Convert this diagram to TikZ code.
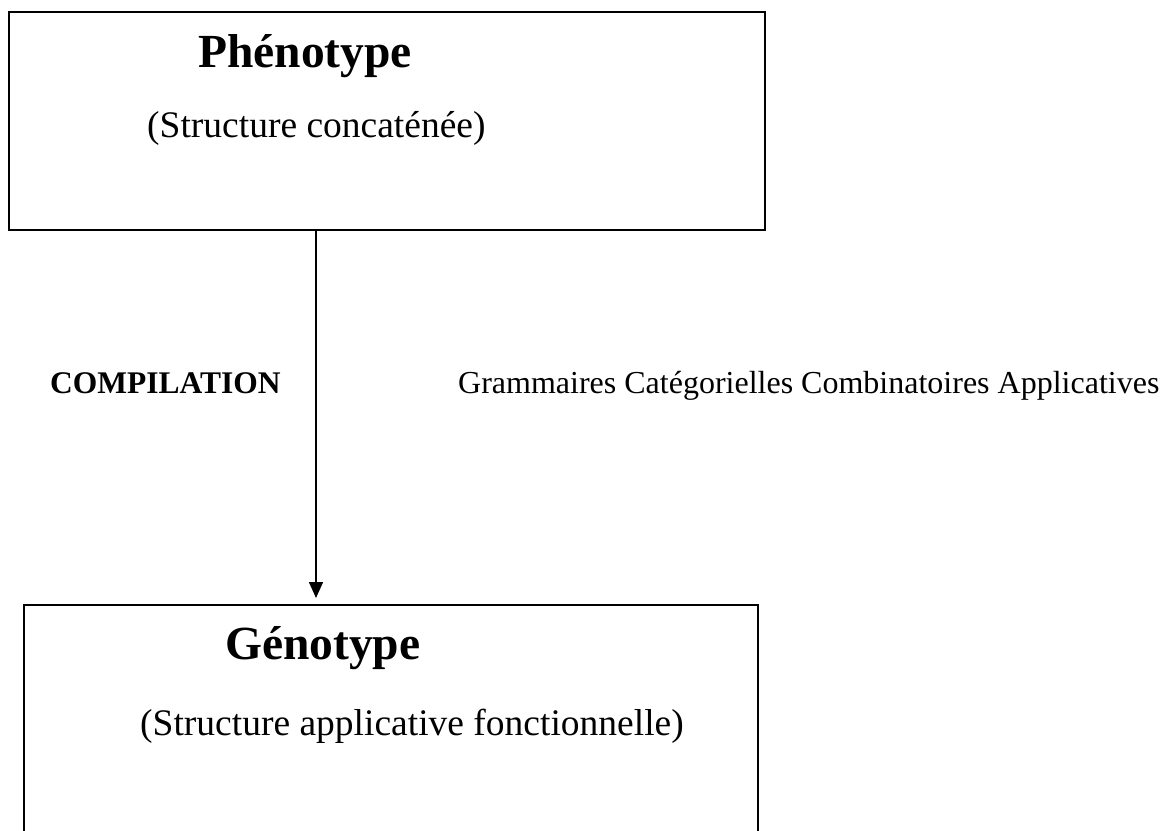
\documentclass[tikz,border=0pt]{standalone}
\usepackage{fontspec}
\setmainfont{Liberation Serif}
\usetikzlibrary{arrows.meta}

\tikzset{
  framebox/.style={draw=black, line width=2pt, inner sep=0pt, anchor=north west},
  titletext/.style={anchor=base west, inner sep=0pt, font=\fontsize{47.5}{56}\selectfont\bfseries},
  subtext/.style={anchor=base west, inner sep=0pt, font=\fontsize{37.5}{45}\selectfont},
  sidelabel/.style={anchor=base west, inner sep=0pt, font=\fontsize{32}{38}\selectfont},
  flow/.style={line width=1.5pt, -{Triangle[width=14pt,length=16pt]}, shorten >=6pt}
}

\begin{document}
\begin{tikzpicture}[x=1pt, y=-1pt]
  \useasboundingbox (0,0) rectangle (1169,830);
  \fill[white] (0,0) rectangle (1169,830);
  \clip (0,0) rectangle (1169,830);

  % upper frame: phenotype
  \node[framebox, minimum width=756pt, minimum height=218pt] (pheno) at (8,11) {};
  \node[titletext] (phenotitle) at (198,67) {Phénotype};
  \node[subtext] (phenosub) at (147,137) {(Structure concaténée)};

  % lower frame: genotype (runs past the lower edge)
  \node[framebox, minimum width=734pt, minimum height=280pt] (geno) at (23,604) {};
  \node[titletext] (genotitle) at (225,659) {Génotype};
  \node[subtext] (genosub) at (140,735) {(Structure applicative fonctionnelle)};

  % compilation arrow
  \coordinate (axis) at (316,0);
  \draw[flow] (axis |- pheno.south) -- (axis |- geno.north);

  % labels beside the arrow
  \node[sidelabel, font=\fontsize{31.5}{38}\selectfont\bfseries] (comp) at (50,393) {COMPILATION};
  \node[sidelabel] (gcca) at (458,393) {Grammaires Catégorielles Combinatoires Applicatives};
\end{tikzpicture}
\end{document}
